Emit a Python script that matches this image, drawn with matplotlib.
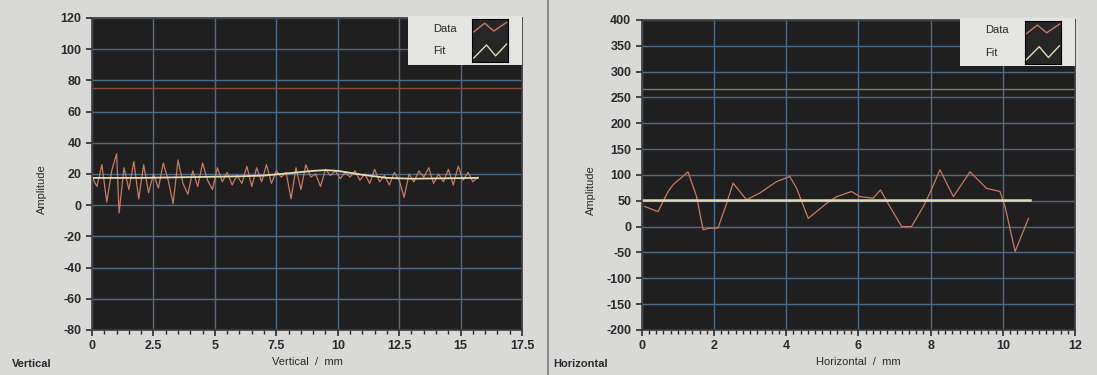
import matplotlib
matplotlib.use("Agg")
import matplotlib.pyplot as plt
from matplotlib.ticker import MultipleLocator, FormatStrFormatter
from matplotlib.lines import Line2D

# --- Data: vertical scan ---
vert_x = [0.0, 0.2, 0.4, 0.6, 0.8, 1.0, 1.1, 1.3, 1.5, 1.7, 1.9, 2.1, 2.3, 2.5, 2.7, 2.9,
          3.1, 3.3, 3.5, 3.7, 3.9, 4.1, 4.3, 4.5, 4.7, 4.9, 5.1, 5.3, 5.5, 5.7, 5.9, 6.1,
          6.3, 6.5, 6.7, 6.9, 7.1, 7.3, 7.5, 7.7, 7.9, 8.1, 8.3, 8.5, 8.7, 8.9, 9.1, 9.3,
          9.5, 9.7, 9.9, 10.1, 10.3, 10.5, 10.7, 10.9, 11.1, 11.3, 11.5, 11.7, 11.9, 12.1,
          12.3, 12.5, 12.7, 12.9, 13.1, 13.3, 13.5, 13.7, 13.9, 14.1, 14.3, 14.5, 14.7,
          14.9, 15.1, 15.3, 15.5, 15.7]
vert_data = [18, 12, 26, 2, 22, 33, -5, 24, 10, 28, 4, 26, 8, 20, 11, 27,
             16, 1, 29, 14, 7, 22, 12, 27, 16, 10, 24, 15, 21, 13, 19, 14,
             25, 12, 24, 15, 26, 14, 22, 18, 21, 4, 24, 10, 26, 18, 20, 12,
             23, 19, 22, 17, 21, 18, 22, 16, 20, 14, 23, 15, 19, 13,
             21, 16, 5, 20, 15, 22, 18, 24, 14, 20, 15, 23, 13,
             25, 16, 21, 15, 18]
vert_fit_x = [0, 2, 4, 6, 7, 8, 9, 9.5, 10, 11, 12, 13, 15.7]
vert_fit = [17.5, 17.5, 18, 18.5, 19, 20.5, 22, 22.5, 22, 19.5, 17.5, 17, 17.5]
vert_marker = 75

# --- Data: horizontal scan ---
horiz_x = [0.08, 0.45, 0.73, 0.87, 1.28, 1.52, 1.70, 1.88, 2.11, 2.35, 2.53, 2.90, 3.27,
           3.73, 4.10, 4.29, 4.61, 5.12, 5.40, 5.81, 6.04, 6.41, 6.61, 6.87, 7.20, 7.47,
           7.80, 7.98, 8.26, 8.63, 9.09, 9.55, 9.92, 10.06, 10.34, 10.71]
horiz_data = [39, 29, 68, 81, 106, 58, -6, -3, -3, 45, 84, 52, 65,
              87, 97, 74, 16, 45, 58, 68, 58, 55, 71, 39, 0, 0,
              39, 65, 110, 58, 106, 74, 68, 39, -48, 16]
horiz_fit_x = [0.0, 10.75]
horiz_fit = [52, 52]
horiz_marker = 267

BG = "#d9d9d7"
PLOT_BG = "#1f1f1f"
GRID = "#4d6c88"
DATA_C = "#c97a62"
FIT_C = "#e2dcb0"
TXT = "#2a2a2a"

plt.rcParams['font.family'] = ['Liberation Sans', 'DejaVu Sans']
plt.rcParams['axes.unicode_minus'] = False

fig = plt.figure(figsize=(10.97, 3.75), dpi=100, facecolor=BG)
ax1 = fig.add_axes([0.0839, 0.12, 0.392, 0.832])
ax2 = fig.add_axes([0.585, 0.12, 0.395, 0.827])

# separator between the two panels
fig.add_artist(Line2D([0.4995, 0.4995], [0, 1], transform=fig.transFigure, color="#8a8a8a", lw=1.5))


def style_axes(ax, xlim, ylim, xmajor, xminor, ymajor, xlabel):
    ax.set_facecolor(PLOT_BG)
    ax.set_xlim(*xlim)
    ax.set_ylim(*ylim)
    ax.xaxis.set_major_locator(MultipleLocator(xmajor))
    ax.xaxis.set_minor_locator(MultipleLocator(xminor))
    ax.yaxis.set_major_locator(MultipleLocator(ymajor))
    ax.xaxis.set_major_formatter(FormatStrFormatter('%g'))
    ax.grid(True, which='major', color=GRID, lw=1.0)
    ax.set_axisbelow(True)
    for s in ax.spines.values():
        s.set_color("#3a3a3a")
        s.set_linewidth(1.2)
    ax.tick_params(axis='both', which='major', colors=TXT, labelsize=9, length=4, width=1.2)
    ax.tick_params(axis='x', which='minor', colors=TXT, length=3, width=1)
    for lbl in ax.get_xticklabels() + ax.get_yticklabels():
        lbl.set_fontweight('bold')
    ax.set_xlabel(xlabel, fontsize=8, color=TXT, labelpad=3)
    ax.set_ylabel("Amplitude", fontsize=8, color=TXT)
    ax.yaxis.set_label_coords(-0.105, 0.45)


def add_legend(ax):
    box = ax.inset_axes([0.735, 0.85, 0.265, 0.155])
    box.set_facecolor("#e4e4e2")
    box.set_xticks([])
    box.set_yticks([])
    for s in box.spines.values():
        s.set_visible(False)
    box.text(0.22, 0.75, "Data", fontsize=8, color=TXT, va='center', transform=box.transAxes)
    box.text(0.22, 0.28, "Fit", fontsize=8, color=TXT, va='center', transform=box.transAxes)
    sw = box.inset_axes([0.56, 0.05, 0.32, 0.9])
    sw.set_facecolor("#262626")
    sw.set_xticks([])
    sw.set_yticks([])
    sw.set_xlim(0, 1)
    sw.set_ylim(0, 1)
    sw.plot([0.05, 0.35, 0.6, 0.95], [0.7, 0.9, 0.72, 0.92], color=DATA_C, lw=1)
    sw.plot([0.05, 0.4, 0.65, 0.95], [0.1, 0.4, 0.15, 0.42], color=FIT_C, lw=1)


style_axes(ax1, (0, 17.5), (-80, 120), 2.5, 0.5, 20, "Vertical  /  mm")
ax1.axhline(vert_marker, color="#8a4a3c", lw=1)
ax1.plot(vert_x, vert_data, color=DATA_C, lw=0.9)
ax1.plot(vert_fit_x, vert_fit, color=FIT_C, lw=1.3)
add_legend(ax1)

style_axes(ax2, (0, 12), (-200, 400), 2, 0.2, 50, "Horizontal  /  mm")
ax2.axhline(horiz_marker, color="#8a7a52", lw=1)
ax2.plot(horiz_x, horiz_data, color=DATA_C, lw=0.9)
ax2.plot(horiz_fit_x, horiz_fit, color=FIT_C, lw=1.8)
add_legend(ax2)

fig.text(0.011, 0.022, "Vertical", fontsize=8, fontweight='bold', color=TXT)
fig.text(0.504, 0.022, "Horizontal", fontsize=8, fontweight='bold', color=TXT)

fig.savefig("out.png", dpi=100, facecolor=BG)
